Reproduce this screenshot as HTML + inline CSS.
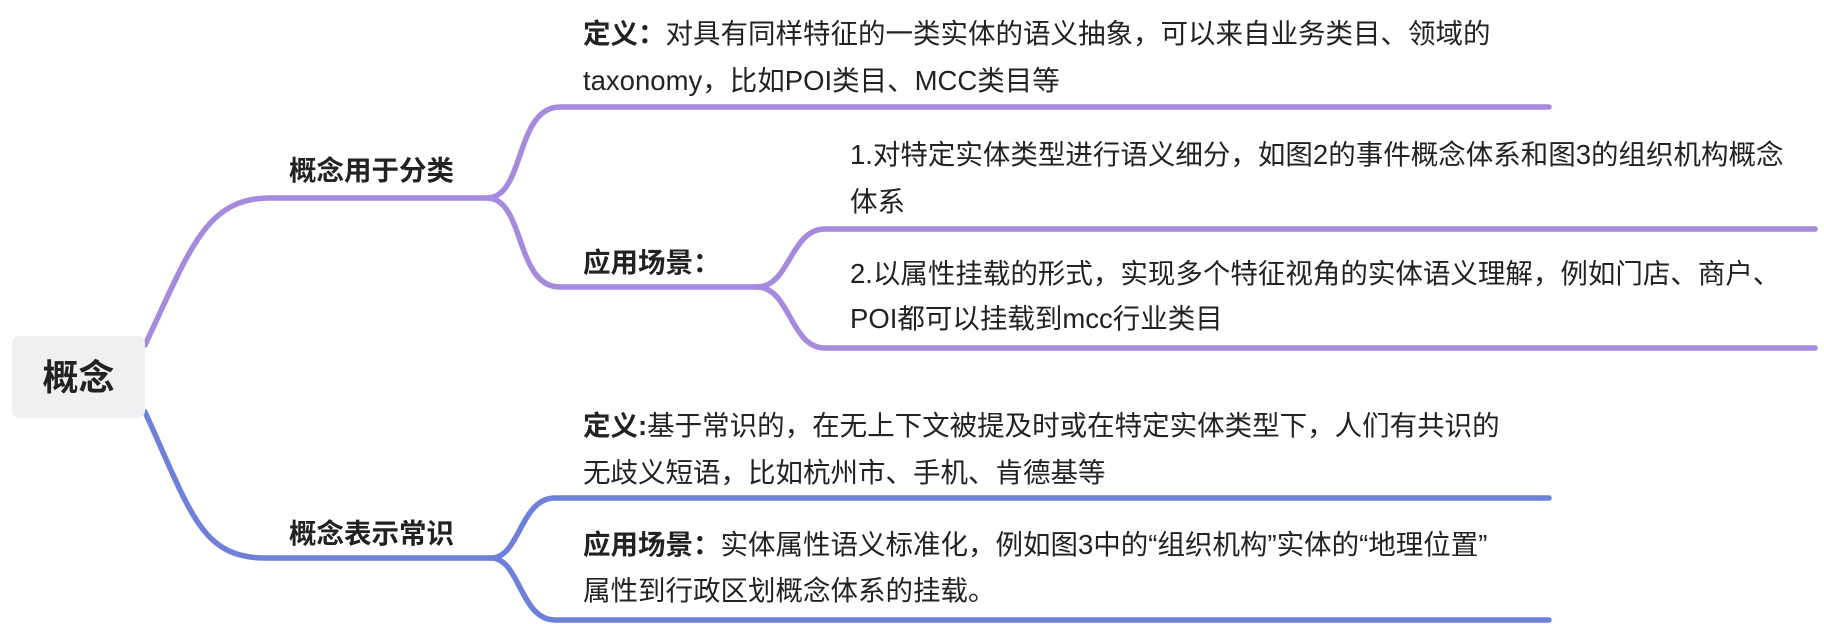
<!DOCTYPE html>
<html><head><meta charset="utf-8"><style>
body{margin:0;width:1824px;height:624px;background:#fff;position:relative;overflow:hidden;font-family:"Liberation Sans","Noto Sans CJK SC",sans-serif;color:#222;}
.t{position:absolute;font-size:27.5px;line-height:47px;white-space:nowrap;}
b{font-weight:bold;}
</style></head><body>
<svg width="1824" height="624" style="position:absolute;left:0;top:0" fill="none" stroke-width="5.5" stroke-linecap="round">
<g stroke="#a68ade">
<path d="M145,345 C190,250 205,198 270,198 L487,198"/>
<path d="M487,198 C525,198 515,107 560,107 L1549,107"/>
<path d="M487,198 C525,198 515,287 560,287 L757,287"/>
<path d="M757,287 C790,287 790,229 825,229 L1815,229"/>
<path d="M757,287 C790,287 790,348 825,348 L1815,348"/>
</g>
<g stroke="#6f80d8">
<path d="M145,412 C190,510 200,558 265,558 L491,558"/>
<path d="M491,558 C520,558 520,498 555,498 L1549,498"/>
<path d="M491,558 C520,558 520,620 555,620 L1549,620"/>
</g>
</svg>
<div style="position:absolute;left:12px;top:336px;width:133px;height:82px;background:#eff0f1;border-radius:7px;"></div>
<div class="t" style="left:12px;top:354px;width:133px;text-align:center;font-size:36px;font-weight:bold;">概念</div>
<div class="t" style="left:289px;top:147px;font-weight:bold;">概念用于分类</div>
<div class="t" style="left:289px;top:510px;font-weight:bold;">概念表示常识</div>
<div class="t" style="left:583px;top:10px;"><b>定义：</b>对具有同样特征的一类实体的语义抽象，可以来自业务类目、领域的<br>taxonomy，比如POI类目、MCC类目等</div>
<div class="t" style="left:583px;top:239px;font-weight:bold;">应用场景：</div>
<div class="t" style="left:850px;top:131px;">1.对特定实体类型进行语义细分，如图2的事件概念体系和图3的组织机构概念<br>体系</div>
<div class="t" style="left:850px;top:251px;line-height:45px;">2.以属性挂载的形式，实现多个特征视角的实体语义理解，例如门店、商户、<br>POI都可以挂载到mcc行业类目</div>
<div class="t" style="left:583px;top:402px;"><b>定义:</b>基于常识的，在无上下文被提及时或在特定实体类型下，人们有共识的<br>无歧义短语，比如杭州市、手机、肯德基等</div>
<div class="t" style="left:583px;top:522px;line-height:46px;"><b>应用场景：</b>实体属性语义标准化，例如图3中的“组织机构”实体的“地理位置”<br>属性到行政区划概念体系的挂载。</div>
</body></html>
